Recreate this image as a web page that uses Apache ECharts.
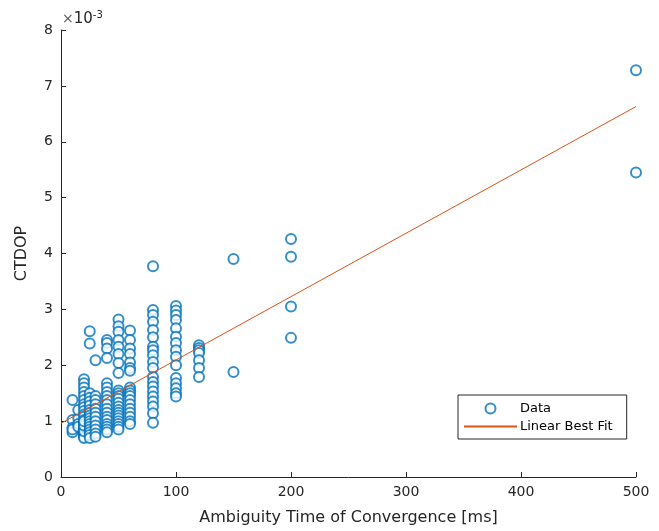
<!DOCTYPE html>
<html>
<head>
<meta charset="utf-8">
<script src="https://cdn.jsdelivr.net/npm/echarts@6/dist/echarts.min.js"></script>
<style>
  html, body { margin: 0; padding: 0; background: #fff; }
  #chart { width: 659px; height: 531px; }
</style>
</head>
<body>
<div id="chart"></div>
<script>
// ambiguity time of convergence [ms] and CTDOP (in units of 1e-3), one entry per point
const timeMs = [
  10, 10, 10, 10, 10,
  15, 15, 15, 15,
  20, 20, 20, 20, 20, 20, 20, 20, 20, 20, 20, 20, 20, 20, 20, 20, 20, 20, 20, 20, 20, 20, 20, 20, 20,
  25, 25, 25, 25, 25, 25, 25, 25, 25, 25, 25, 25, 25, 25, 25, 25, 25,
  30, 30, 30, 30, 30, 30, 30, 30, 30, 30, 30, 30,
  40, 40, 40, 40, 40, 40, 40, 40, 40, 40, 40, 40, 40, 40, 40, 40, 40, 40,
  50, 50, 50, 50, 50, 50, 50, 50, 50, 50, 50, 50, 50, 50, 50, 50, 50, 50, 50, 50, 50, 50,
  60, 60, 60, 60, 60, 60, 60, 60, 60, 60, 60, 60, 60, 60, 60, 60, 60, 60,
  80, 80, 80, 80, 80, 80, 80, 80, 80, 80, 80, 80, 80, 80, 80, 80, 80, 80, 80, 80,
  100, 100, 100, 100, 100, 100, 100, 100, 100, 100, 100, 100, 100, 100, 100,
  120, 120, 120, 120, 120, 120, 120,
  150, 150,
  200, 200, 200, 200,
  500, 500
];
const ctdop = [
  1.38, 1.02, 0.88, 0.80, 0.85,
  1.05, 0.95, 1.20, 0.90,
  1.75, 1.68, 1.60, 1.52, 1.45, 1.38, 1.30, 1.25, 1.18, 1.12, 1.08, 1.02, 0.98, 0.94, 0.90, 0.87, 0.84, 0.81, 0.78, 0.75, 0.72, 0.70, 0.82, 0.92, 1.00,
  2.61, 2.39, 1.50, 1.42, 1.35, 1.28, 1.20, 1.15, 1.10, 1.05, 1.00, 0.95, 0.90, 0.85, 0.80, 0.75, 0.70,
  2.09, 1.45, 1.38, 1.30, 1.22, 1.15, 1.08, 1.00, 0.92, 0.85, 0.78, 0.72,
  2.45, 2.40, 2.30, 2.13, 1.68, 1.60, 1.52, 1.45, 1.38, 1.30, 1.22, 1.15, 1.08, 1.02, 0.95, 0.90, 0.85, 0.80,
  2.82, 2.70, 2.60, 2.45, 2.33, 2.20, 2.04, 1.86, 1.55, 1.50, 1.45, 1.40, 1.33, 1.26, 1.20, 1.15, 1.10, 1.05, 1.00, 0.95, 0.90, 0.85,
  2.62, 2.45, 2.30, 2.20, 2.05, 1.95, 1.90, 1.60, 1.55, 1.50, 1.45, 1.38, 1.30, 1.22, 1.15, 1.08, 1.00, 0.95,
  3.77, 2.99, 2.90, 2.78, 2.63, 2.50, 2.33, 2.27, 2.18, 2.06, 1.95, 1.79, 1.70, 1.62, 1.53, 1.44, 1.35, 1.26, 1.14, 0.97,
  3.06, 2.98, 2.90, 2.81, 2.66, 2.51, 2.40, 2.27, 2.15, 2.00, 1.77, 1.68, 1.59, 1.50, 1.44,
  2.36, 2.31, 2.27, 2.22, 2.09, 1.95, 1.79,
  3.90, 1.88,
  4.26, 3.94, 3.05, 2.49,
  7.28, 5.45
];
// linear best fit, end points
const fitX = [0, 500];
const fitY = [0.96, 6.63];

const xTicks = [0, 100, 200, 300, 400, 500];
const yTicks = [0, 1, 2, 3, 4, 5, 6, 7, 8];

const axisColor = '#262626';
const font = 'DejaVu Sans';

const chart = echarts.init(document.getElementById('chart'));
chart.setOption({
  animation: false,
  backgroundColor: '#fff',
  textStyle: { fontFamily: font },
  grid: { left: 61, right: 23, top: 30, bottom: 54, containLabel: false },
  xAxis: {
    type: 'value',
    min: xTicks[0],
    max: xTicks[xTicks.length - 1],
    interval: 100,
    name: 'Ambiguity Time of Convergence [ms]',
    nameLocation: 'middle',
    nameGap: 33,
    nameTextStyle: { fontSize: 16, color: axisColor, fontFamily: font },
    axisLine: { lineStyle: { color: axisColor, width: 1 } },
    axisTick: { inside: true, length: 5, lineStyle: { color: axisColor } },
    axisLabel: { fontSize: 14, color: axisColor, margin: 8, fontFamily: font },
    splitLine: { show: false }
  },
  yAxis: {
    type: 'value',
    min: yTicks[0],
    max: yTicks[yTicks.length - 1],
    interval: 1,
    name: 'CTDOP',
    nameLocation: 'middle',
    nameGap: 31,
    nameTextStyle: { fontSize: 16, color: axisColor, fontFamily: font },
    axisLine: { show: true, lineStyle: { color: axisColor, width: 1 } },
    axisTick: { show: true, inside: true, length: 5, lineStyle: { color: axisColor } },
    axisLabel: { fontSize: 14, color: axisColor, margin: 8, fontFamily: font },
    splitLine: { show: false }
  },
  graphic: [{
    type: 'text',
    left: 62,
    top: 10,
    style: {
      text: '{a|×}{b|10}{c|-3}',
      rich: {
        a: { fontSize: 14, fill: '#555', fontFamily: font },
        b: { fontSize: 15, fill: axisColor, fontFamily: font },
        c: { fontSize: 10, fill: axisColor, fontFamily: font, verticalAlign: 'top', padding: [0, 0, 9, 0] }
      }
    }
  }],
  legend: {
    orient: 'vertical',
    left: 458,
    top: 395,
    padding: [7, 14, 6, 5],
    itemGap: 5,
    itemWidth: 53,
    itemHeight: 10,
    borderColor: axisColor,
    borderWidth: 1,
    backgroundColor: '#fff',
    textStyle: { fontSize: 13, color: '#000', fontFamily: font, padding: [0, 0, 0, -2] },
    data: [{ name: 'Data' }, { name: 'Linear Best Fit', itemStyle: { opacity: 0 } }]
  },
  series: [
    {
      name: 'Data',
      type: 'scatter',
      symbol: 'emptyCircle',
      symbolSize: 10,
      itemStyle: { color: '#0072BD', borderColor: '#0072BD', borderWidth: 1.2 },
      data: timeMs.map((t, i) => [t, ctdop[i]])
    },
    {
      name: 'Linear Best Fit',
      type: 'line',
      symbol: 'none',
      lineStyle: { color: '#D95319', width: 1 },
      itemStyle: { color: '#D95319' },
      data: fitX.map((t, i) => [t, fitY[i]])
    }
  ]
});
</script>
</body>
</html>
